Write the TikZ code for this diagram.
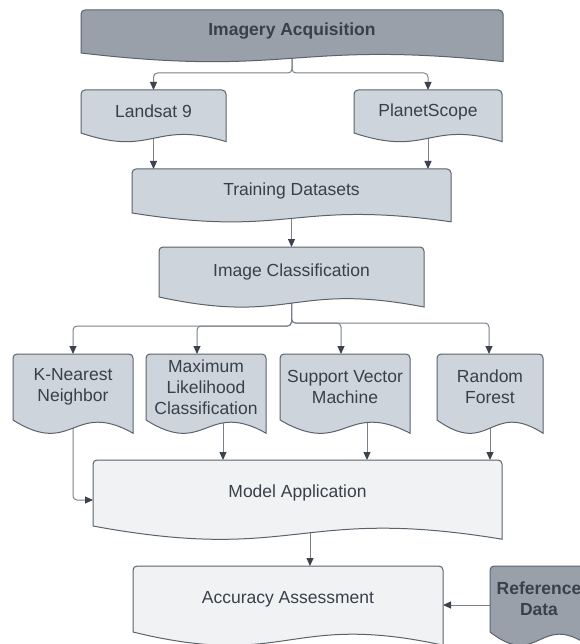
\documentclass[tikz,border=0pt]{standalone}
\usepackage{fontspec}
\setmainfont{Liberation Sans}
\usepackage{tikz}
\usetikzlibrary{arrows.meta,positioning,calc,backgrounds}

\definecolor{darkfill}{HTML}{9AA0A9}
\definecolor{midfill}{HTML}{CED4DC}
\definecolor{lightfill}{HTML}{F1F2F4}
\definecolor{bordercol}{HTML}{5B626C}
\definecolor{linecol}{HTML}{7B818A}
\definecolor{arrowcol}{HTML}{3D434D}
\definecolor{textcol}{HTML}{3A404A}

% document outline: rounded top, wavy bottom below the node box
\newcommand{\docshape}[2]{%
  \draw[docline, fill=#2] let \p1=(#1.north west), \p2=(#1.south east), \n1={0.2*(\y1-\y2)} in
    (\x1,\y2) -- (\x1,\y1-4pt) arc[start angle=180, end angle=90, radius=4pt]
    -- (\x2-4pt,\y1) arc[start angle=90, end angle=0, radius=4pt]
    -- (\x2,{\y2-\n1})
    .. controls ({(\x1+\x2)/2},{\y2+1.56*\n1}) and ({(\x1+\x2)/2},{\y2-2.87*\n1}) .. (\x1,\y2) -- cycle;
}

\begin{document}
\begin{tikzpicture}[
    x=1pt, y=-1pt,
    doc/.style={inner sep=0pt, outer sep=0pt, align=center, text=textcol,
      font=\fontsize{17.5}{21}\selectfont},
    docbold/.style={doc, font=\fontsize{17.5}{21}\selectfont\bfseries},
    docline/.style={draw=bordercol, line width=1pt},
    link/.style={draw=linecol, line width=1pt, rounded corners=4pt,
      -{Triangle[length=8pt, width=7pt, color=arrowcol]}}
]
\useasboundingbox (0,0) rectangle (579,644);

% Top
\node[docbold, minimum width=422pt, minimum height=43pt] (acq) at (292,31.5) {Imagery Acquisition};
\node[doc, minimum width=145pt, minimum height=43pt, below right=37pt and 0pt of acq.south west] (landsat) {Landsat 9};
\node[doc, minimum width=148pt, minimum height=43pt, below left=37pt and 1pt of acq.south east] (planet) {PlanetScope};

% Middle
\node[doc, minimum width=319pt, minimum height=44pt] (train) at (291.5,191) {Training Datasets};
\node[doc, minimum width=265pt, minimum height=50pt] (classif) at (291.5,272) {Image Classification};

% Classifiers
\node[doc, minimum width=120pt, minimum height=66pt] (knn) at (73,387) {K-Nearest\\Neighbor};
\node[doc, minimum width=120pt, minimum height=66pt, right=13pt of knn] (mlc) {Maximum\\Likelihood\\Classification};
\node[doc, minimum width=130pt, minimum height=66pt, right=14pt of mlc] (svm) {Support Vector\\Machine};
\node[doc, minimum width=106pt, minimum height=66pt, right=27pt of svm] (rf) {Random\\Forest};

% Bottom
\node[doc, minimum width=409pt, minimum height=66pt] (model) at (297.5,493) {Model Application};
\node[doc, minimum width=310pt, minimum height=66pt] (acc) at (288,599) {Accuracy Assessment};
\node[docbold, minimum width=98pt, minimum height=66pt, right=47pt of acc] (ref) {Reference\\Data};

\begin{scope}[on background layer]
  % Arrows
  \draw[link] (acq.south) -- ++(0,20) -| (landsat.north);
  \draw[link] (acq.south) -- ++(0,20) -| (planet.north);
  \draw[link] (landsat.south) -- (landsat.south |- train.north);
  \draw[link] (planet.south) -- (planet.south |- train.north);
  \draw[link] (classif |- train.south) -- (classif.north);
  % fan out
  \draw[link] (classif.south) -- ++(0,29) -| (knn.north);
  \draw[link] (classif.south) -- ++(0,29) -| ([xshift=-9pt]mlc.north);
  \draw[link] (classif.south) -- ++(0,26) -| ([xshift=-4pt]svm.north);
  \draw[link] (classif.south) -- ++(0,26) -| ([xshift=-1pt]rf.north);
  % into model
  \draw[link] (knn.south) |- ([yshift=-7pt]model.west);
  \draw[link] ([xshift=17pt]mlc.south) -- ([xshift=17pt]mlc.south |- model.north);
  \draw[link] ([xshift=22pt]svm.south) -- ([xshift=22pt]svm.south |- model.north);
  \draw[link] (rf.south) -- (rf.south |- model.north);
  % assessment
  \draw[link] ([xshift=12.5pt]model.south) -- ([xshift=12.5pt]model.south |- acc.north);
  \draw[link] ([yshift=-6pt]ref.west) -- ([yshift=-6pt]acc.east);

  % Outlines
  \foreach \nd/\fc in {acq/darkfill, landsat/midfill, planet/midfill, train/midfill,
      classif/midfill, knn/midfill, mlc/midfill, svm/midfill, rf/midfill,
      model/lightfill, acc/lightfill, ref/darkfill}
    \docshape{\nd}{\fc};
\end{scope}
\end{tikzpicture}
\end{document}
